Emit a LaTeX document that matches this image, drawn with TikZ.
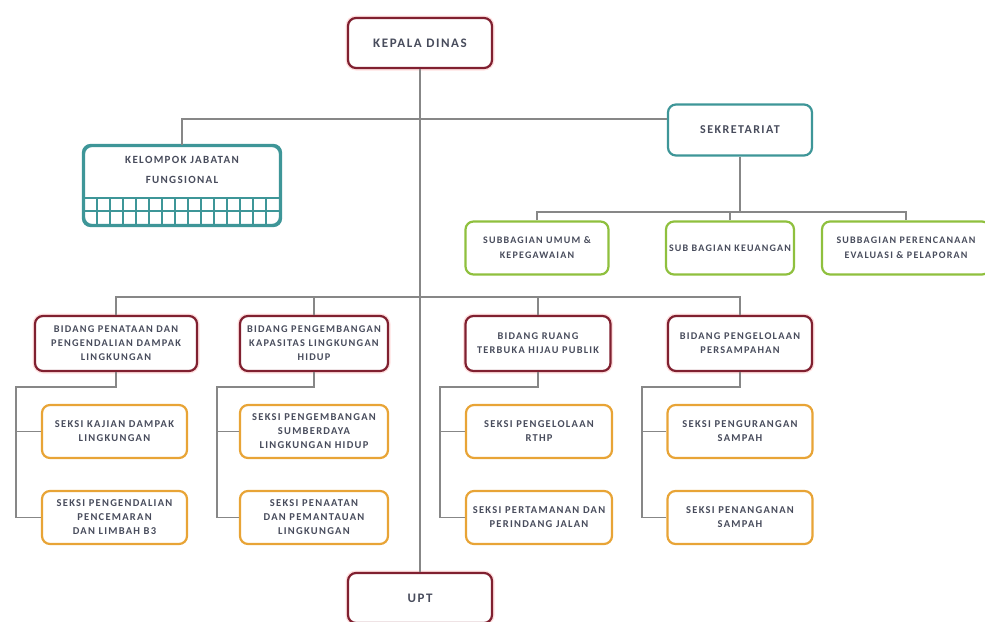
\documentclass[tikz,border=0pt]{standalone}
\usepackage{fontspec}
\setmainfont{Carlito}[LetterSpace=12]
\usetikzlibrary{calc}

\definecolor{dinasred}{RGB}{128,32,48}
\definecolor{sekteal}{RGB}{62,150,152}
\definecolor{subgreen}{RGB}{143,192,62}
\definecolor{seksiorange}{RGB}{232,164,54}
\definecolor{linkgray}{RGB}{135,135,135}
\definecolor{labeltext}{RGB}{72,76,92}

\begin{document}
\begin{tikzpicture}[x=1pt, y=-1pt,
		unit/.style={draw, rounded corners=8pt, line width=2.2pt, fill=white, align=center,
			text=labeltext, font=\bfseries\fontsize{10.5}{14}\selectfont, inner sep=1pt},
		headbox/.style={unit, draw=dinasred, minimum width=144pt, minimum height=50pt,
			preaction={draw=red!12, line width=5pt}, font=\bfseries\fontsize{13}{15}\selectfont},
		tealbox/.style={unit, draw=sekteal},
		subbox/.style={unit, draw=subgreen, minimum height=53pt, font=\bfseries\fontsize{10}{15}\selectfont},
		bidangbox/.style={unit, draw=dinasred, minimum height=55pt,
			preaction={draw=red!12, line width=5pt}, font=\bfseries\fontsize{10.3}{14}\selectfont},
		seksibox/.style={unit, draw=seksiorange, minimum height=53pt},
		link/.style={draw=linkgray, line width=1.6pt}
	]
	\useasboundingbox (0,0) rectangle (985,621);
	
	% pimpinan
	\node [headbox] (kepala) at (420,43) {KEPALA DINAS};
	\node [headbox] (upt) at (420,598) {UPT};
	
	% sekretariat
	\node [tealbox, minimum width=144pt, minimum height=51pt, font=\bfseries\fontsize{12}{14}\selectfont] (sekr) at (740,130) {SEKRETARIAT};
	\node [subbox, minimum width=143pt] (sub umum) at (537,248) {SUBBAGIAN UMUM \&\\KEPEGAWAIAN};
	\node [subbox, minimum width=128pt] (sub keu) at (730,248) {SUB BAGIAN KEUANGAN};
	\node [subbox, minimum width=168pt] (sub ren) at (906,248) {SUBBAGIAN PERENCANAAN\\EVALUASI \& PELAPORAN};
	
	% kelompok jabatan fungsional
	\node [tealbox, minimum width=196pt, minimum height=79pt] (kjf) at (182,185.5) {};
	\begin{scope}
		\clip [rounded corners=8pt] (kjf.south west) rectangle (kjf.north east);
		\draw [sekteal, line width=1.8pt] (84,198) -- (280,198) (84,211) -- (280,211);
		\foreach \x in {1,...,14}
			\draw [sekteal, line width=1.8pt] ({84+13*\x},198) -- ({84+13*\x},226);
	\end{scope}
	\draw [sekteal, line width=2.2pt, rounded corners=8pt] (kjf.south west) rectangle (kjf.north east);
	\node [align=center, text=labeltext, font=\bfseries\fontsize{11}{20}\selectfont] (kjf text) at (182,170) {KELOMPOK JABATAN\\FUNGSIONAL};
	
	% bidang
	\node [bidangbox, minimum width=162pt] (bid dampak) at (116,343.5) {BIDANG PENATAAN DAN\\PENGENDALIAN DAMPAK\\LINGKUNGAN};
	\node [bidangbox, minimum width=148pt] (bid kapasitas) at (314,343.5) {BIDANG PENGEMBANGAN\\KAPASITAS LINGKUNGAN\\HIDUP};
	\node [bidangbox, minimum width=145pt] (bid rth) at (538,343.5) {BIDANG RUANG\\TERBUKA HIJAU PUBLIK};
	\node [bidangbox, minimum width=144pt] (bid sampah) at (740,343.5) {BIDANG PENGELOLAAN\\PERSAMPAHAN};
	
	% seksi
	\node [seksibox, minimum width=145pt] (kajian) at (114.5,431.5) {SEKSI KAJIAN DAMPAK\\LINGKUNGAN};
	\node [seksibox, minimum width=145pt] (pencemaran) at (114.5,517.5) {SEKSI PENGENDALIAN\\PENCEMARAN\\DAN LIMBAH B3};
	\node [seksibox, minimum width=148pt] (sumberdaya) at (314,431.5) {SEKSI PENGEMBANGAN\\SUMBERDAYA\\LINGKUNGAN HIDUP};
	\node [seksibox, minimum width=148pt] (penaatan) at (314,517.5) {SEKSI PENAATAN\\DAN PEMANTAUAN\\LINGKUNGAN};
	\node [seksibox, minimum width=146pt] (rthp) at (539,431.5) {SEKSI PENGELOLAAN\\RTHP};
	\node [seksibox, minimum width=146pt] (pertamanan) at (539,517.5) {SEKSI PERTAMANAN DAN\\PERINDANG JALAN};
	\node [seksibox, minimum width=145pt] (pengurangan) at (740,431.5) {SEKSI PENGURANGAN\\SAMPAH};
	\node [seksibox, minimum width=145pt] (penanganan) at (740,517.5) {SEKSI PENANGANAN\\SAMPAH};
	
	% garis
	\coordinate (sub bar) at (740,212);
	\coordinate (bid bar) at (420,297);
	\coordinate (kol 1) at (16,387);
	\coordinate (kol 2) at (217,387);
	\coordinate (kol 3) at (440,387);
	\coordinate (kol 4) at (642,387);
	
	\draw [link] (kepala) -- (upt);
	\draw [link] (kjf.north) |- ([yshift=11pt]sekr.west);
	
	\draw [link] (sekr.south) -- (sub bar);
	\draw [link] (sub umum.north) |- (sub bar) -| (sub ren.north);
	\draw [link] (sub keu.north) -- (sub keu.north |- sub bar);
	
	\draw [link] (bid dampak.north) |- (bid bar) -| (bid sampah.north);
	\draw [link] (bid kapasitas.north) -- (bid kapasitas.north |- bid bar);
	\draw [link] (bid rth.north) -- (bid rth.north |- bid bar);
	
	\foreach \b/\k/\s/\t in {bid dampak/kol 1/kajian/pencemaran, bid kapasitas/kol 2/sumberdaya/penaatan,
			bid rth/kol 3/rthp/pertamanan, bid sampah/kol 4/pengurangan/penanganan} {
		\draw [link] (\b.south) |- (\k) |- (\t.west);
		\draw [link] (\s.west) -- (\s.west -| \k);
	}
\end{tikzpicture}
\end{document}
